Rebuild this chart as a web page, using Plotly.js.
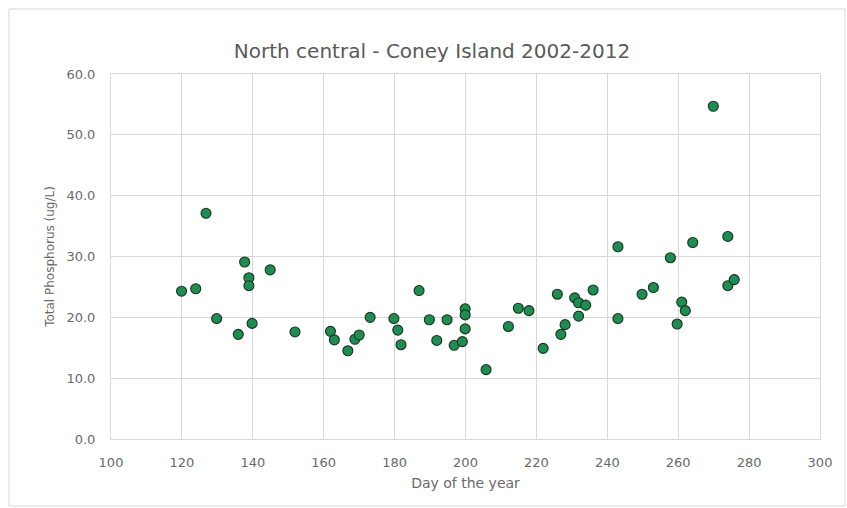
<!DOCTYPE html>
<html>
<head>
<meta charset="utf-8">
<script src="https://cdn.plot.ly/plotly-3.0.1.min.js"></script>
<style>html,body{margin:0;padding:0;background:#fff;}#chart{width:847px;height:508px;}</style>
</head>
<body>
<div id="chart"></div>
<script>
const dayOfYear = [119.9, 123.9, 126.8, 129.8, 135.9, 137.7, 138.9, 138.9, 139.8, 144.9, 151.9,
  161.9, 163.0, 166.8, 168.8, 170.0, 173.1, 179.8, 180.9, 181.8, 186.9, 189.8, 191.9, 194.8,
  196.8, 199.1, 199.9, 199.9, 199.9, 205.8, 212.1, 214.9, 217.9, 221.9, 225.9, 226.9, 228.1,
  230.8, 231.9, 231.9, 233.9, 236.0, 243.0, 243.0, 249.8, 253.0, 257.8, 259.7, 261.0, 262.0,
  264.1, 269.9, 274.0, 274.0, 275.8];
const totalPhosphorus = [24.3, 24.7, 37.1, 19.8, 17.2, 29.1, 26.5, 25.2, 19.0, 27.8, 17.6,
  17.7, 16.3, 14.5, 16.4, 17.1, 20.0, 19.8, 17.9, 15.5, 24.4, 19.6, 16.2, 19.6,
  15.4, 16.0, 18.1, 21.4, 20.4, 11.4, 18.5, 21.5, 21.1, 14.9, 23.8, 17.2, 18.8,
  23.2, 20.2, 22.4, 22.0, 24.5, 31.6, 19.8, 23.8, 24.9, 29.8, 18.9, 22.5, 21.1,
  32.3, 54.7, 33.3, 25.2, 26.2];
const xTicks = [100, 120, 140, 160, 180, 200, 220, 240, 260, 280, 300];
const yTicks = [0, 10, 20, 30, 40, 50, 60];
const yTickLabels = ["0.0", "10.0", "20.0", "30.0", "40.0", "50.0", "60.0"];

const grey = '#6a6a6a';
const gridc = '#d9d9d9';
const fontFam = '"DejaVu Sans", "Liberation Sans", sans-serif';

const trace = {
  x: dayOfYear, y: totalPhosphorus, type: 'scatter', mode: 'markers',
  marker: {size: 10, color: '#1f8c52', line: {color: '#17331f', width: 1.1}},
  hoverinfo: 'x+y'
};

const L = 111, R = 27, T = 74, B = 69, W = 847, H = 508;
const pw = W - L - R, ph = H - T - B;
const px = v => (v - L) / pw;
const py = v => 1 - (v - T) / ph;

const layout = {
  width: W, height: H,
  margin: {l: L, r: R, t: T, b: B, pad: 0},
  paper_bgcolor: '#fff', plot_bgcolor: '#fff',
  showlegend: false,
  font: {family: fontFam, color: grey, size: 13},
  title: {text: 'North central - Coney Island 2002-2012', font: {size: 20, color: '#5a5a5a', family: fontFam},
    x: 0.51, xanchor: 'center', y: 0.9, yanchor: 'middle'},
  xaxis: {
    range: [100, 300], tickvals: xTicks, ticktext: xTicks.map(String),
    showgrid: true, gridcolor: gridc, gridwidth: 1, zeroline: false,
    showline: true, linecolor: gridc, linewidth: 1, mirror: true,
    ticks: 'outside', ticklen: 11, tickcolor: 'rgba(0,0,0,0)', tickfont: {size: 13, color: grey},
    title: {text: 'Day of the year', font: {size: 14, color: grey}, standoff: 9}
  },
  yaxis: {
    range: [0, 60], tickvals: yTicks, ticktext: yTickLabels,
    showgrid: true, gridcolor: gridc, gridwidth: 1, zeroline: false,
    showline: true, linecolor: gridc, linewidth: 1, mirror: true,
    ticks: 'outside', ticklen: 12, tickcolor: 'rgba(0,0,0,0)', tickfont: {size: 13, color: grey},
    title: {text: 'Total Phosphorus (ug/L)', font: {size: 12, color: grey}, standoff: 9}
  },
  shapes: [{
    type: 'rect', xref: 'paper', yref: 'paper',
    x0: px(9), x1: px(845), y0: py(506), y1: py(9),
    line: {color: '#d9d9d9', width: 1}, fillcolor: 'rgba(0,0,0,0)', layer: 'below'
  }]
};

Plotly.newPlot('chart', [trace], layout, {displayModeBar: false, staticPlot: true});
</script>
</body>
</html>
